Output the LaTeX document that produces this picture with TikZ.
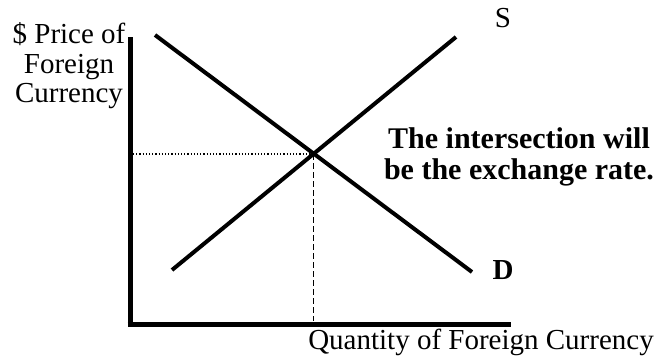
\documentclass[tikz,border=0pt]{standalone}
\usepackage{fontspec}
\setmainfont{Liberation Serif}
\begin{document}
\begin{tikzpicture}[x=1pt,y=-1pt,
  axis/.style={line width=5pt},
  curve/.style={line width=4pt},
  lbl/.style={font=\fontsize{29}{29.5}\selectfont, inner sep=0pt, align=center},
  blbl/.style={font=\fontsize{30}{31}\selectfont\bfseries, inner sep=0pt, align=center}]
\useasboundingbox (0,0) rectangle (666,362);
\coordinate (ytop) at (130,37);
\coordinate (origin) at (130,324);
\coordinate (xend) at (511,324);
\coordinate (d1) at (155,35);
\coordinate (d2) at (472,272);
\coordinate (s1) at (172,270);
\coordinate (s2) at (456,37);
\coordinate (eq) at (313,154);
\coordinate (yeq) at (133,154);
\coordinate (xeq) at (313,321);
\draw[axis] (ytop) -- ([yshift=2.5pt]origin) ;
\draw[axis] ([xshift=-2.5pt]origin) -- (xend);
\draw[curve] (d1) -- (d2);
\draw[curve] (s1) -- (s2);
\draw[line width=1.2pt, dotted] (yeq) -- (eq);
\draw[line width=1pt, dashed, dash pattern=on 6pt off 3pt] (eq) -- (xeq);
\node[lbl] (ylab) at (69,66) {\$ Price of\\Foreign\\Currency};
\node[lbl] (xlab) at (481,342) {Quantity of Foreign Currency};
\node[lbl] (slab) at (503,18) {S};
\node[blbl] (note) at (519,157) {The intersection will\\be the exchange rate.};
\node[blbl, font=\fontsize{29}{30}\selectfont\bfseries] (dlab) at (503,270) {D};
\end{tikzpicture}
\end{document}
